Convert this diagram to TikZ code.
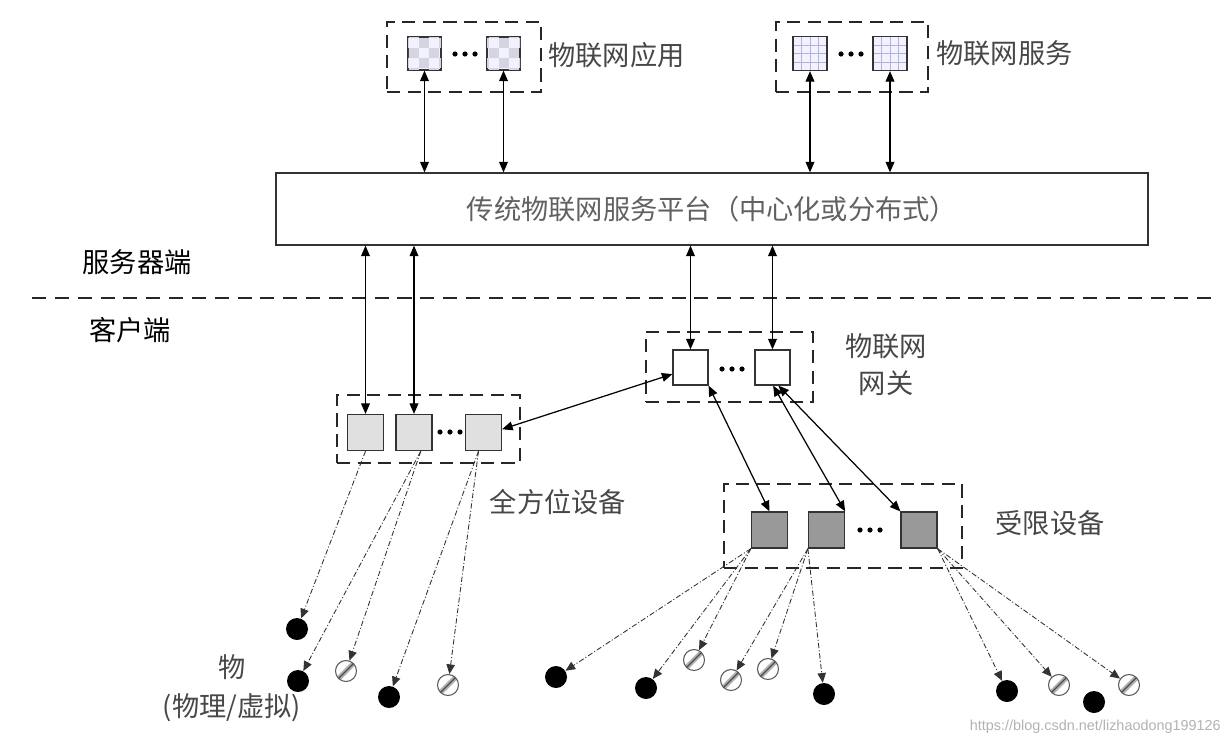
\documentclass[tikz,border=0pt]{standalone}
\usepackage{fontspec}
\usetikzlibrary{arrows.meta,patterns,calc}
\newfontfamily\cjk{Noto Sans CJK SC}
\newfontfamily\wmfont{Liberation Sans}
\tikzset{
  grp/.style={draw=black!85, line width=1.4pt, dash pattern=on 7.5pt off 4.2pt, inner sep=0pt},
  sq/.style={draw=black!80, line width=0.7pt, minimum size=0.7cm, inner sep=0pt},
  appsq/.style={sq, fill=blue!5, postaction={pattern=checkerboard, pattern color=blue!18!gray!28}},
  svcsq/.style={sq, fill=blue!5, path picture={
      \foreach \f in {0.25,0.5,0.75}{
        \draw[blue!35!gray!45, line width=0.5pt]
          ($(path picture bounding box.south west)!\f!(path picture bounding box.south east)$) --
          ($(path picture bounding box.north west)!\f!(path picture bounding box.north east)$);
        \draw[blue!35!gray!45, line width=0.5pt]
          ($(path picture bounding box.south west)!\f!(path picture bounding box.north west)$) --
          ($(path picture bounding box.south east)!\f!(path picture bounding box.north east)$);
      }}},
  omnisq/.style={sq, fill=black!12},
  gwsq/.style={sq, fill=white},
  consq/.style={sq, fill=black!40},
  lbl/.style={font=\cjk\fontsize{15.5pt}{20pt}\selectfont, text=black!72, inner sep=0pt},
  blackthing/.style={circle, fill=black, minimum size=0.44cm, inner sep=0pt},
  hatchthing/.style={circle, draw=black!65, line width=0.6pt, fill=white, minimum size=0.42cm, inner sep=0pt,
      path picture={
        \draw[black!30, line width=3pt] (path picture bounding box.south west) -- (path picture bounding box.north east);
        \draw[black!70, line width=0.7pt] (path picture bounding box.south west) -- (path picture bounding box.north east);
      }},
  biarrow/.style={{Triangle[length=6pt,width=5pt]}-{Triangle[length=6pt,width=5pt]}, line width=0.7pt, black},
  dda/.style={-{Triangle[length=5.5pt,width=4.8pt]}, line width=0.5pt, black!80,
      dash pattern=on 3pt off 1.2pt on 0.6pt off 1.2pt},
  tridots/.pic={\foreach \i in {-10,0,10} \fill (\i,0) circle (0.052cm);}
}
\begin{document}
\begin{tikzpicture}[x=0.02cm,y=-0.02cm]
\useasboundingbox (0,0) rectangle (1230,747);

% ---------- top: applications ----------
\node[grp, minimum width=3.08cm, minimum height=1.4cm] (appbox) at (464,57) {};
\node[appsq, minimum size=0.66cm] (app1) at (424.5,53.5) {};
\node[appsq, minimum size=0.66cm] (app2) at (503.5,53.5) {};
\pic at (465,54) {tridots};
\node[lbl, anchor=west] (applbl) at (548,55) {物联网应用};

% ---------- top: services ----------
\node[grp, minimum width=3.04cm, minimum height=1.4cm] (svcbox) at (852,57) {};
\node[svcsq, minimum size=0.68cm] (svc1) at (810,53.5) {};
\node[svcsq, minimum size=0.68cm] (svc2) at (890,53.5) {};
\pic at (851,54) {tridots};
\node[lbl, anchor=west] (svclbl) at (936,53) {物联网服务};

% ---------- platform ----------
\node[draw=black!80, line width=0.7pt, minimum width=17.44cm, minimum height=1.44cm,
      font=\cjk\fontsize{15.5pt}{20pt}\selectfont, text=black!62] (plat) at (712,209)
      {传统物联网服务平台（中心化或分布式）};

\draw[biarrow] (app1.south) -- (app1.south |- plat.north);
\draw[biarrow] (app2.south) -- (app2.south |- plat.north);
\draw[biarrow] (svc1.south) -- (svc1.south |- plat.north);
\draw[biarrow] (svc2.south) -- (svc2.south |- plat.north);

% ---------- server / client split ----------
\node[lbl, text=black] (server) at (137,262) {服务器端};
\node[lbl, text=black] (client) at (130,330) {客户端};
\coordinate (splitL) at (32,298);
\coordinate (splitR) at (1215,298);
\draw[black!85, line width=1.2pt, dash pattern=on 8pt off 5pt] (splitL) -- (splitR);

% ---------- gateway ----------
\node[grp, minimum width=3.34cm, minimum height=1.4cm] (gwbox) at (729.5,367) {};
\node[gwsq] (gw1) at (690.5,367.5) {};
\node[gwsq] (gw2) at (772.5,367.5) {};
\pic at (732,369) {tridots};
\node[lbl, align=center] (gwlbl) at (886,365) {物联网\\[1pt]网关};

% ---------- omni devices ----------
\node[grp, minimum width=3.66cm, minimum height=1.36cm] (omnibox) at (428.5,429) {};
\node[omnisq, minimum size=0.72cm] (omni1) at (365.5,432.5) {};
\node[omnisq, minimum size=0.72cm] (omni2) at (414,432.5) {};
\node[omnisq, minimum size=0.72cm] (omni3) at (483.5,432.5) {};
\pic at (450,432) {tridots};
\node[lbl] (omnilbl) at (558,502) {全方位设备};

% ---------- constrained devices ----------
\node[grp, minimum width=4.76cm, minimum height=1.68cm] (conbox) at (843,526) {};
\node[consq, minimum size=0.72cm] (con1) at (769.5,530) {};
\node[consq, minimum size=0.72cm] (con2) at (826.5,530) {};
\node[consq, minimum size=0.72cm] (con3) at (919,530) {};
\pic at (870,530) {tridots};
\node[lbl] (conlbl) at (1050,523) {受限设备};

% ---------- platform <-> client ----------
\draw[biarrow] (omni1.north |- plat.south) -- (omni1.north);
\draw[biarrow] (omni2.north |- plat.south) -- (omni2.north);
\draw[biarrow] (gw1.north |- plat.south) -- (gw1.north);
\draw[biarrow] (gw2.north |- plat.south) -- (gw2.north);
\draw[biarrow] (omni3.10) -- (gw1.200);
\draw[biarrow] (gw1.south east) -- (con1.north);
\draw[biarrow] (gw2.272) -- (con2.north east);
\draw[biarrow] (gw2.288) -- (con3.north west);

% ---------- things ----------
\node[blackthing] (t1) at (297,629) {};
\node[blackthing] (t2) at (298,681) {};
\node[hatchthing] (t3) at (346,671) {};
\node[blackthing] (t4) at (389,697) {};
\node[hatchthing] (t5) at (448,685) {};
\node[blackthing] (t6) at (556,677) {};
\node[blackthing] (t7) at (646,688) {};
\node[hatchthing] (t8) at (694,660) {};
\node[hatchthing] (t9) at (731,680) {};
\node[hatchthing] (t10) at (768,669) {};
\node[blackthing] (t11) at (824,694) {};
\node[blackthing] (t12) at (1007,691) {};
\node[hatchthing] (t13) at (1059,685) {};
\node[blackthing] (t14) at (1094,702) {};
\node[hatchthing] (t15) at (1129,685) {};

\node[lbl, align=center] (thinglbl) at (232,688) {物\\[2pt](物理/虚拟)};

\draw[dda] (omni1.south) -- (t1);
\draw[dda] (omni2.290) -- (t2);
\draw[dda] (omni2.290) -- (t3);
\draw[dda] (omni3.255) -- (t4);
\draw[dda] (omni3.255) -- (t5);
\draw[dda] (con1.south west) -- (t6);
\draw[dda] (con1.south west) -- (t7);
\draw[dda] (con1.south west) -- (t8);
\draw[dda] (con2.south west) -- (t9);
\draw[dda] (con2.south west) -- (t10);
\draw[dda] (con2.south west) -- (t11);
\draw[dda] (con3.south east) -- (t12);
\draw[dda] (con3.south east) -- (t13);
\draw[dda] (con3.south east) -- (t15);

% ---------- watermark ----------
\node[font=\wmfont\fontsize{8.2pt}{10pt}\selectfont, text=black!30, anchor=east, inner sep=0pt] (wm) at (1221,727)
  {https://blog.csdn.net/lizhaodong199126};
\end{tikzpicture}
\end{document}
